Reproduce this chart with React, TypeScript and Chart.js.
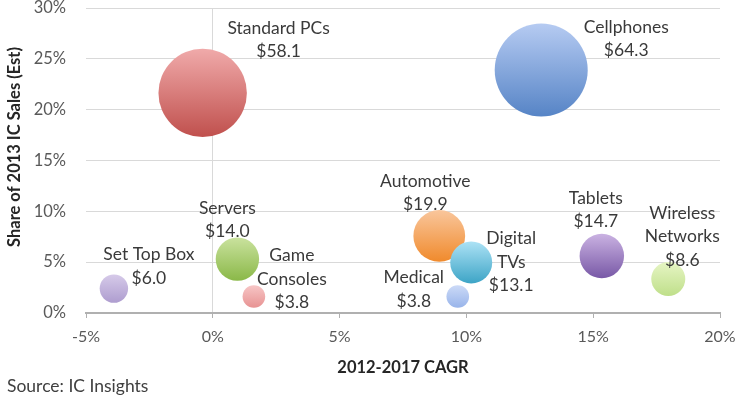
import React, { useEffect, useRef } from "react";
import { Chart, registerables } from "chart.js";

Chart.register(...registerables);

// ---------- data ----------
const categories = [
  "Standard PCs",
  "Cellphones",
  "Set Top Box",
  "Servers",
  "Game Consoles",
  "Automotive",
  "Digital TVs",
  "Medical",
  "Tablets",
  "Wireless Networks",
];
// 2012-2017 CAGR (%)
const cagr = [-0.4, 12.95, -3.9, 0.97, 1.62, 8.93, 10.19, 9.66, 15.34, 17.96];
// Share of 2013 IC sales (%)
const share = [21.65, 23.9, 2.4, 5.3, 1.62, 7.58, 4.97, 1.62, 5.6, 3.35];
// 2013 IC sales ($B) -> bubble size
const sales = [58.1, 64.3, 6.0, 14.0, 3.8, 19.9, 13.1, 3.8, 14.7, 8.6];

const xTicks = [-5, 0, 5, 10, 15, 20];
const yTicks = [0, 5, 10, 15, 20, 25, 30];

const xTitle = "2012-2017 CAGR";
const yTitle = "Share of 2013 IC Sales (Est)";
const source = "Source: IC Insights";

// ---------- styles ----------
const FONT = "Lato";
const R_SCALE = 5.8; // px per sqrt($B)
const gradTop = [
  "#f0aaaa", "#b6cbf2", "#d6cae9", "#cae29e", "#f7c6c6",
  "#f9c69c", "#ace2f5", "#ccdaf7", "#cab2e2", "#e6f5c4",
];
const gradBottom = [
  "#c0504d", "#5684c6", "#ae9dcf", "#8ab848", "#e79292",
  "#f08a2c", "#3da4c6", "#98b4ea", "#7858a6", "#bfdf8a",
];
// label placement: [dx, dy] of first text line centre relative to bubble centre, in px
const labelOffsets: [number, number][] = [
  [76, -65],
  [85, -43],
  [35, -34],
  [-10, -51],
  [38, -41],
  [-14, -55],
  [40, -24],
  [-44, -19],
  [-6, -58],
  [14, -66],
];
const labelWrap = [false, false, false, false, true, false, true, false, false, true];
const LINE_H = 23.5;

function labelLines(i: number): string[] {
  const name = categories[i];
  const lines = labelWrap[i] ? name.split(" ") : [name];
  return [...lines, "$" + sales[i].toFixed(1)];
}

const textPlugin = {
  id: "bubbleText",
  afterDatasetsDraw(chart: any) {
    const ctx = chart.ctx;
    const meta = chart.getDatasetMeta(0);
    ctx.save();
    ctx.font = `17.5px ${FONT}`;
    ctx.fillStyle = "#3a3a3a";
    ctx.textAlign = "center";
    ctx.textBaseline = "middle";
    meta.data.forEach((el: any, i: number) => {
      const [dx, dy] = labelOffsets[i];
      labelLines(i).forEach((line, k) => {
        ctx.fillText(line, el.x + dx, el.y + dy + k * LINE_H);
      });
    });
    ctx.restore();
  },
  afterDraw(chart: any) {
    const ctx = chart.ctx;
    const area = chart.chartArea;
    ctx.save();
    ctx.fillStyle = "#262626";
    ctx.font = `bold 16.5px ${FONT}`;
    ctx.textAlign = "center";
    ctx.textBaseline = "middle";
    ctx.fillText(xTitle, (area.left + area.right) / 2, 368);
    ctx.save();
    ctx.translate(15, 147);
    ctx.rotate(-Math.PI / 2);
    ctx.fillText(yTitle, 0, 0);
    ctx.restore();
    ctx.font = `17.5px ${FONT}`;
    ctx.fillStyle = "#404040";
    ctx.textAlign = "left";
    ctx.fillText(source, 7, 386);
    ctx.restore();
  },
};

function bubbleFill(c: any) {
  if (c.type !== "data") return gradBottom[0];
  const i = c.dataIndex;
  const chart = c.chart;
  const ys = chart.scales.y;
  if (!ys || !chart.chartArea) return gradBottom[i];
  const cy = ys.getPixelForValue(c.raw.y);
  const r = c.raw.r;
  const g = chart.ctx.createLinearGradient(0, cy - r, 0, cy + r);
  g.addColorStop(0, gradTop[i]);
  g.addColorStop(1, gradBottom[i]);
  return g;
}

export default function App() {
  const ref = useRef<HTMLCanvasElement>(null);
  useEffect(() => {
    document.body.style.margin = "0";
    const canvas = ref.current!;
    const chart = new Chart(canvas, {
      type: "bubble",
      data: {
        datasets: [
          {
            data: categories.map((_, i) => ({
              x: cagr[i],
              y: share[i],
              r: R_SCALE * Math.sqrt(sales[i]),
            })),
            backgroundColor: bubbleFill as any,
            hoverBackgroundColor: bubbleFill as any,
            borderWidth: 0,
            hoverBorderWidth: 0,
            clip: false as any,
          },
        ],
      },
      options: {
        responsive: false,
        animation: false,
        devicePixelRatio: 1,
        events: [],
        layout: {
          autoPadding: false,
          padding: { top: 8, right: 21, left: 0, bottom: 0 },
        },
        plugins: { legend: { display: false }, tooltip: { enabled: false } },
        scales: {
          x: {
            type: "linear",
            position: "bottom",
            min: xTicks[0],
            max: xTicks[xTicks.length - 1],
            afterBuildTicks: (s: any) => {
              s.ticks = xTicks.map((v) => ({ value: v }));
            },
            afterFit: (s: any) => {
              s.height = 85;
              s.paddingLeft = 0;
              s.paddingRight = 0;
            },
            ticks: {
              callback: (v: any) => v + "%",
              font: { family: FONT, size: 16 },
              color: "#595959",
              padding: 9,
              maxRotation: 0,
            },
            grid: {
              color: (c: any) =>
                c.tick && c.tick.value === 0 ? "#d9d9d9" : "rgba(0,0,0,0)",
              tickColor: "#b0b0b0",
              tickLength: 5,
              drawTicks: true,
              lineWidth: 1,
            },
            border: { display: true, color: "#b0b0b0", width: 2 },
          },
          y: {
            type: "linear",
            position: "left",
            min: yTicks[0],
            max: yTicks[yTicks.length - 1],
            afterBuildTicks: (s: any) => {
              s.ticks = yTicks.map((v) => ({ value: v }));
            },
            afterFit: (s: any) => {
              s.width = 86;
              s.paddingTop = 0;
              s.paddingBottom = 0;
            },
            ticks: {
              callback: (v: any) => v + "%",
              font: { family: FONT, size: 16.5 },
              color: "#595959",
              padding: 20,
            },
            grid: { color: "#d9d9d9", drawTicks: false, lineWidth: 1 },
            border: { display: false },
          },
        },
      },
      plugins: [textPlugin],
    });
    return () => chart.destroy();
  }, []);
  return (
    <canvas
      ref={ref}
      width={741}
      height={398}
      style={{ display: "block", width: 741, height: 398 }}
    />
  );
}
